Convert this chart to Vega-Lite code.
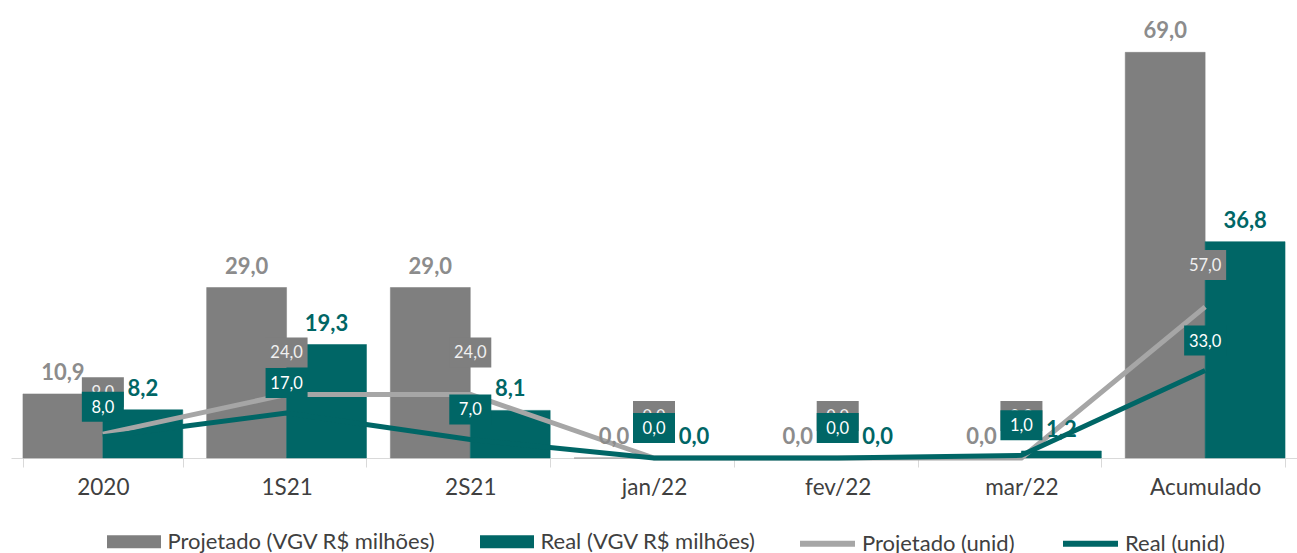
{
  "$schema": "https://vega.github.io/schema/vega-lite/v6.json",
  "width": 1286,
  "height": 448,
  "autosize": {"type": "none"},
  "padding": {"left": 11, "top": 10, "right": 0, "bottom": 95},
  "background": "white",
  "data": {
    "values": [
      {"cat": "2020", "serie": "Projetado (VGV R$ milhões)", "valor": 10.9},
      {"cat": "2020", "serie": "Real (VGV R$ milhões)", "valor": 8.2},
      {"cat": "2020", "serie": "Projetado (unid)", "valor": 9},
      {"cat": "2020", "serie": "Real (unid)", "valor": 8},
      {"cat": "1S21", "serie": "Projetado (VGV R$ milhões)", "valor": 29},
      {"cat": "1S21", "serie": "Real (VGV R$ milhões)", "valor": 19.3},
      {"cat": "1S21", "serie": "Projetado (unid)", "valor": 24},
      {"cat": "1S21", "serie": "Real (unid)", "valor": 17},
      {"cat": "2S21", "serie": "Projetado (VGV R$ milhões)", "valor": 29},
      {"cat": "2S21", "serie": "Real (VGV R$ milhões)", "valor": 8.1},
      {"cat": "2S21", "serie": "Projetado (unid)", "valor": 24},
      {"cat": "2S21", "serie": "Real (unid)", "valor": 7},
      {"cat": "jan/22", "serie": "Projetado (VGV R$ milhões)", "valor": 0},
      {"cat": "jan/22", "serie": "Real (VGV R$ milhões)", "valor": 0},
      {"cat": "jan/22", "serie": "Projetado (unid)", "valor": 0},
      {"cat": "jan/22", "serie": "Real (unid)", "valor": 0},
      {"cat": "fev/22", "serie": "Projetado (VGV R$ milhões)", "valor": 0},
      {"cat": "fev/22", "serie": "Real (VGV R$ milhões)", "valor": 0},
      {"cat": "fev/22", "serie": "Projetado (unid)", "valor": 0},
      {"cat": "fev/22", "serie": "Real (unid)", "valor": 0},
      {"cat": "mar/22", "serie": "Projetado (VGV R$ milhões)", "valor": 0},
      {"cat": "mar/22", "serie": "Real (VGV R$ milhões)", "valor": 1.2},
      {"cat": "mar/22", "serie": "Projetado (unid)", "valor": 0},
      {"cat": "mar/22", "serie": "Real (unid)", "valor": 1},
      {"cat": "Acumulado", "serie": "Projetado (VGV R$ milhões)", "valor": 69},
      {"cat": "Acumulado", "serie": "Real (VGV R$ milhões)", "valor": 36.8},
      {"cat": "Acumulado", "serie": "Projetado (unid)", "valor": 57},
      {"cat": "Acumulado", "serie": "Real (unid)", "valor": 33}
    ]
  },
  "transform": [{"calculate": "replace(format(datum.valor, '.1f'), '.', ',')", "as": "rotulo"}],
  "encoding": {
    "x": {
      "field": "cat",
      "type": "nominal",
      "sort": ["2020", "1S21", "2S21", "jan/22", "fev/22", "mar/22", "Acumulado"],
      "scale": {"paddingInner": 0.13, "paddingOuter": 0.065},
      "axis": {
        "title": null,
        "labelAngle": 0,
        "domainColor": "#d9d9d9",
        "tickColor": "#d9d9d9",
        "tickSize": 9,
        "tickBand": "extent",
        "labelFont": "Lato",
        "labelFontSize": 22.5,
        "labelColor": "#404040",
        "labelPadding": 9,
        "grid": false
      }
    }
  },
  "layer": [
    {
      "transform": [{"filter": {"field": "serie", "oneOf": ["Projetado (VGV R$ milhões)", "Real (VGV R$ milhões)"]}}],
      "mark": {"type": "bar", "strokeWidth": 0.5},
      "encoding": {
        "xOffset": {"field": "serie", "type": "nominal", "scale": {"paddingInner": 0, "paddingOuter": 0}},
        "y": {"field": "valor", "type": "quantitative", "scale": {"domain": [0, 76.2]}, "axis": null},
        "fill": {"condition": {"test": "datum.serie == 'Real (VGV R$ milhões)'", "value": "#006666"}, "value": "#7f7f7f"},
        "stroke": {
          "field": "serie",
          "type": "nominal",
          "scale": {
            "domain": ["Projetado (VGV R$ milhões)", "Real (VGV R$ milhões)"],
            "range": ["#7f7f7f", "#006666"]
          },
          "legend": {
            "title": null,
            "orient": "none",
            "legendX": 89.5,
            "legendY": 498,
            "direction": "horizontal",
            "columns": 2,
            "columnPadding": 18,
            "labelFont": "Lato",
            "labelFontSize": 22,
            "labelColor": "#404040",
            "labelLimit": 500,
            "labelOffset": 0,
            "symbolType": "stroke",
            "symbolSize": 2916,
            "symbolStrokeWidth": 13,
            "symbolOpacity": 1
          }
        }
      }
    },
    {
      "transform": [{"filter": {"field": "serie", "oneOf": ["Projetado (unid)", "Real (unid)"]}}],
      "mark": {"type": "line", "strokeWidth": 5, "strokeJoin": "round"},
      "encoding": {
        "y": {"field": "valor", "type": "quantitative", "scale": {"domain": [0, 169]}, "axis": null},
        "stroke": {
          "field": "serie",
          "type": "nominal",
          "scale": {"domain": ["Projetado (unid)", "Real (unid)"], "range": ["#a6a6a6", "#006666"]},
          "legend": {
            "title": null,
            "orient": "none",
            "legendX": 786,
            "legendY": 503,
            "direction": "horizontal",
            "columns": 2,
            "columnPadding": 36,
            "labelFont": "Lato",
            "labelFontSize": 22,
            "labelColor": "#404040",
            "labelLimit": 500,
            "labelOffset": 4,
            "symbolType": "stroke",
            "symbolSize": 3025,
            "symbolStrokeWidth": 6,
            "symbolOpacity": 1
          }
        }
      }
    },
    {
      "transform": [{"filter": {"field": "serie", "equal": "Projetado (unid)"}}],
      "mark": {"type": "tick", "orient": "horizontal", "size": 42, "thickness": 30, "color": "#7f7f7f", "opacity": 1, "yOffset": -42},
      "encoding": {
        "y": {"field": "valor", "type": "quantitative", "scale": {"domain": [0, 169]}, "axis": null}
      }
    },
    {
      "transform": [{"filter": {"field": "serie", "equal": "Projetado (unid)"}}],
      "mark": {"type": "text", "font": "Lato", "fontSize": 16.5, "color": "#f0f0f0", "baseline": "middle", "dy": -41},
      "encoding": {
        "y": {"field": "valor", "type": "quantitative", "scale": {"domain": [0, 169]}, "axis": null},
        "text": {"field": "rotulo", "type": "nominal"}
      }
    },
    {
      "transform": [{"filter": {"field": "serie", "equal": "Real (unid)"}}],
      "mark": {"type": "tick", "orient": "horizontal", "size": 42, "thickness": 30, "color": "#006666", "opacity": 1, "yOffset": -30},
      "encoding": {
        "y": {"field": "valor", "type": "quantitative", "scale": {"domain": [0, 169]}, "axis": null}
      }
    },
    {
      "transform": [{"filter": {"field": "serie", "equal": "Real (unid)"}}],
      "mark": {"type": "text", "font": "Lato", "fontSize": 16.5, "color": "#ffffff", "baseline": "middle", "dy": -29},
      "encoding": {
        "y": {"field": "valor", "type": "quantitative", "scale": {"domain": [0, 169]}, "axis": null},
        "text": {"field": "rotulo", "type": "nominal"}
      }
    },
    {
      "transform": [{"filter": {"field": "serie", "oneOf": ["Projetado (VGV R$ milhões)", "Real (VGV R$ milhões)"]}}],
      "mark": {"type": "text", "font": "Lato", "fontSize": 22, "fontWeight": "bold", "baseline": "alphabetic", "dy": -14},
      "encoding": {
        "xOffset": {"field": "serie", "type": "nominal", "scale": {"paddingInner": 0, "paddingOuter": 0}},
        "y": {"field": "valor", "type": "quantitative", "scale": {"domain": [0, 76.2]}, "axis": null},
        "text": {"field": "rotulo", "type": "nominal"},
        "color": {"condition": {"test": "datum.serie == 'Real (VGV R$ milhões)'", "value": "#006666"}, "value": "#8c8c8c"}
      }
    }
  ],
  "resolve": {"scale": {"y": "independent", "stroke": "independent"}},
  "config": {
    "view": {"stroke": null}
  }
}
